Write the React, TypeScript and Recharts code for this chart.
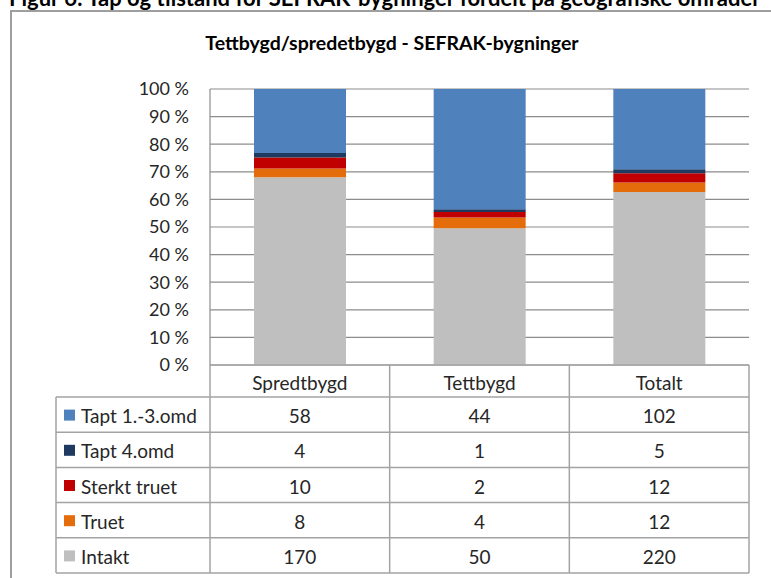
import React from 'react';
import { BarChart, Bar, XAxis, YAxis, CartesianGrid } from 'recharts';

const categories = ['Spredtbygd', 'Tettbygd', 'Totalt'];
const seriesNames = ['Tapt 1.-3.omd', 'Tapt 4.omd', 'Sterkt truet', 'Truet', 'Intakt'];
const taptA = [58, 44, 102];
const taptB = [4, 1, 5];
const sterktTruet = [10, 2, 12];
const truet = [8, 4, 12];
const intakt = [170, 50, 220];
const yTicks = [0, 0.1, 0.2, 0.3, 0.4, 0.5, 0.6, 0.7, 0.8, 0.9, 1];

const colors: Record<string, string> = {
  'Tapt 1.-3.omd': '#4F81BD',
  'Tapt 4.omd': '#1F3A60',
  'Sterkt truet': '#C00000',
  'Truet': '#E46C0A',
  'Intakt': '#BFBFBF',
};

const seriesValues: Record<string, number[]> = {
  'Tapt 1.-3.omd': taptA,
  'Tapt 4.omd': taptB,
  'Sterkt truet': sterktTruet,
  'Truet': truet,
  'Intakt': intakt,
};

const data = categories.map((name, i) => ({
  name,
  taptA: taptA[i],
  taptB: taptB[i],
  sterktTruet: sterktTruet[i],
  truet: truet[i],
  intakt: intakt[i],
}));

const FONT = 'Lato, "Noto Sans", sans-serif';
const W = 771;
const H = 578;
const PLOT_L = 210;
const PLOT_R = 749;
const PLOT_T = 89;
const PLOT_B = 365;
const HEADER_B = 397;
const ROW_H = 35.2;
const TABLE_L = 56;
const LINE = '#A3A3A3';
const TEXT = '#262626';
const TABLE_FS = 19;

function Overlay() {
  const colW = (PLOT_R - PLOT_L) / categories.length;
  const rowsBottom = HEADER_B + ROW_H * seriesNames.length;
  const els: React.ReactNode[] = [];
  els.push(<line key="ht" x1={PLOT_L} x2={PLOT_R} y1={PLOT_B} y2={PLOT_B} stroke={LINE} strokeWidth={1.5} />);
  for (let c = 0; c <= categories.length; c++) {
    const x = PLOT_L + c * colW;
    els.push(<line key={'v' + c} x1={x} x2={x} y1={PLOT_B} y2={rowsBottom} stroke={LINE} strokeWidth={1.5} />);
  }
  els.push(<line key="vl" x1={TABLE_L} x2={TABLE_L} y1={HEADER_B} y2={rowsBottom} stroke={LINE} strokeWidth={1.5} />);
  for (let r = 0; r <= seriesNames.length; r++) {
    const y = HEADER_B + r * ROW_H;
    els.push(<line key={'h' + r} x1={TABLE_L} x2={PLOT_R} y1={y} y2={y} stroke={LINE} strokeWidth={1.5} />);
  }
  categories.forEach((cat, c) => {
    els.push(
      <text key={'c' + c} x={PLOT_L + (c + 0.5) * colW} y={(PLOT_B + HEADER_B) / 2 + 1} textAnchor="middle" dominantBaseline="central" fontSize={TABLE_FS} fill={TEXT} fontFamily={FONT}>
        {cat}
      </text>
    );
  });
  seriesNames.forEach((s, r) => {
    const cy = HEADER_B + (r + 0.5) * ROW_H + 1;
    els.push(<rect key={'k' + r} x={64} y={cy - 6} width={11} height={11} fill={colors[s]} />);
    els.push(
      <text key={'l' + r} x={81} y={cy} dominantBaseline="central" fontSize={TABLE_FS} fill={TEXT} fontFamily={FONT}>
        {s}
      </text>
    );
    seriesValues[s].forEach((v, c) => {
      els.push(
        <text key={'t' + r + '-' + c} x={PLOT_L + (c + 0.5) * colW} y={cy} textAnchor="middle" dominantBaseline="central" fontSize={TABLE_FS} fill={TEXT} fontFamily={FONT}>
          {v}
        </text>
      );
    });
  });
  return (
    <svg width={W} height={H} style={{ position: 'absolute', left: 0, top: 0, pointerEvents: 'none' }}>
      <text x={9} y={6} fontSize={22} fontWeight={700} fill="#000" fontFamily={FONT}>
        Figur 6: Tap og tilstand for SEFRAK-bygninger fordelt på geografiske områder
      </text>
      <line x1={11} x2={11} y1={10} y2={H} stroke="#9E9E9E" strokeWidth={2} />
      <line x1={10} x2={W} y1={11} y2={11} stroke="#9E9E9E" strokeWidth={2} />
      <text x={392} y={50} textAnchor="middle" fontSize={19.5} fontWeight={700} fill="#000" fontFamily={FONT}>
        Tettbygd/spredetbygd - SEFRAK-bygninger
      </text>
      {els}
    </svg>
  );
}

export default function App() {
  return (
    <div style={{ position: 'fixed', left: 0, top: 0, width: W, height: H, overflow: 'hidden', background: '#fff', fontFamily: FONT }}>
      <div style={{ position: 'absolute', left: 0, top: 0 }}>
        <BarChart
          width={W}
          height={H}
          data={data}
          stackOffset="expand"
          barSize={92}
          margin={{ top: PLOT_T, left: PLOT_L - 100, right: W - PLOT_R, bottom: H - PLOT_B }}
        >
          <CartesianGrid horizontal vertical={false} stroke="#8C8C8C" strokeWidth={1.2} />
          <XAxis dataKey="name" hide />
          <YAxis
            width={100}
            type="number"
            domain={[0, 1]}
            ticks={yTicks}
            tickFormatter={(v: number) => `${Math.round(v * 100)} %`}
            axisLine={{ stroke: '#8C8C8C', strokeWidth: 1.2 }}
            tickLine={false}
            tickSize={0}
            tickMargin={21}
            tick={{ fontSize: 18, fill: TEXT, fontFamily: FONT }}
            interval={0}
          />
          <Bar dataKey="intakt" name="Intakt" stackId="a" fill={colors['Intakt']} isAnimationActive={false} />
          <Bar dataKey="truet" name="Truet" stackId="a" fill={colors['Truet']} isAnimationActive={false} />
          <Bar dataKey="sterktTruet" name="Sterkt truet" stackId="a" fill={colors['Sterkt truet']} isAnimationActive={false} />
          <Bar dataKey="taptB" name="Tapt 4.omd" stackId="a" fill={colors['Tapt 4.omd']} isAnimationActive={false} />
          <Bar dataKey="taptA" name="Tapt 1.-3.omd" stackId="a" fill={colors['Tapt 1.-3.omd']} isAnimationActive={false} />
        </BarChart>
      </div>
      <Overlay />
    </div>
  );
}
